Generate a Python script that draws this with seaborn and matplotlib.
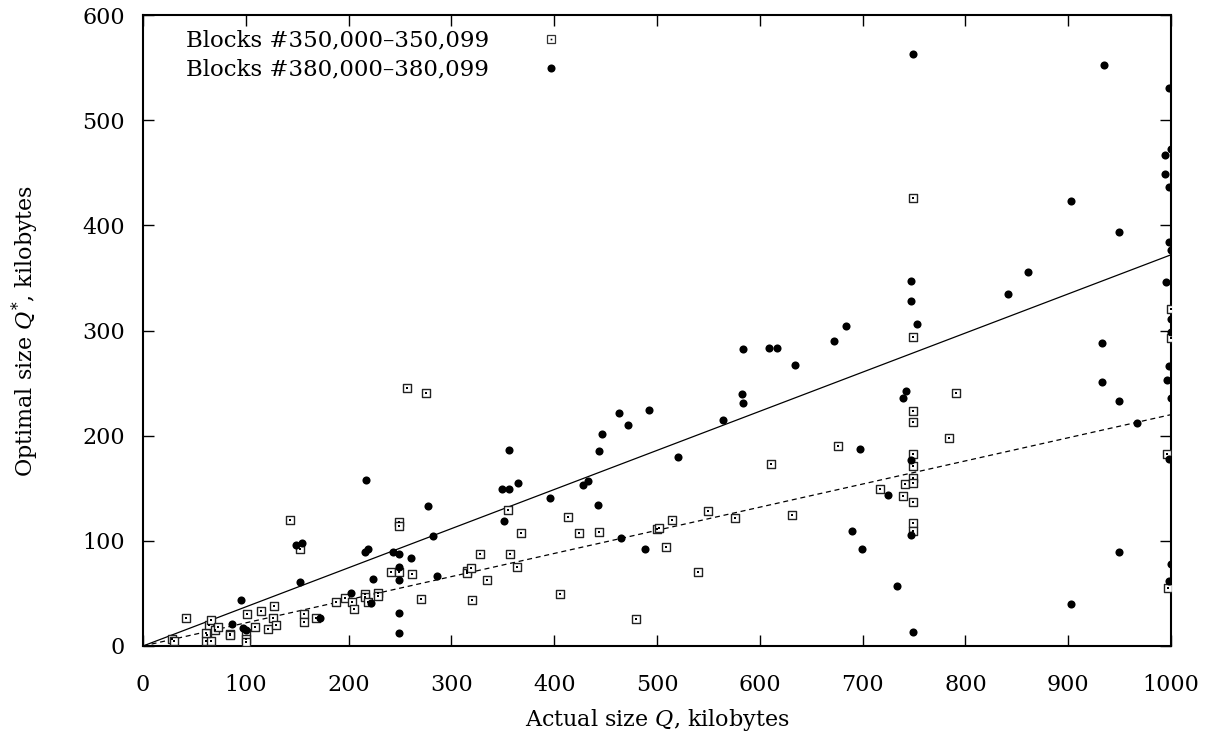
import matplotlib
matplotlib.use('Agg')
import matplotlib.pyplot as plt
from matplotlib.lines import Line2D
import seaborn as sns
import pandas as pd

# Blocks #350,000-350,099 (open squares)
x350 = [28, 30, 42, 62, 61, 66, 61, 64, 66, 70, 73, 85, 85, 100, 100, 100, 101, 109, 115, 122,
        126, 127, 129, 143, 153, 157, 157, 168, 188, 196, 203, 205, 216, 216, 219, 229, 229, 241,
        249, 249, 249, 257, 262, 270, 275,
        315, 315, 319, 320, 328, 335, 355, 357, 364, 368, 406, 413, 424, 444, 480, 500, 502, 509,
        515, 540, 550, 576, 611, 631, 676, 717,
        739, 741, 749, 749, 749, 749, 749, 749, 749, 749, 749, 749, 749,
        784, 791, 996, 997, 1000, 1000]
y350 = [7, 5, 27, 10, 5, 5, 12, 20, 25, 15, 18, 11, 10, 12, 7, 4, 30, 18, 33, 16,
        27, 38, 20, 120, 92, 30, 23, 27, 42, 46, 42, 35, 49, 47, 42, 50, 48, 70,
        118, 114, 70, 245, 68, 45, 241,
        71, 69, 74, 44, 87, 63, 129, 87, 75, 107, 49, 123, 107, 108, 26, 111, 112, 94,
        120, 70, 128, 122, 173, 125, 190, 149,
        143, 154, 426, 294, 223, 213, 183, 171, 160, 155, 137, 117, 109,
        198, 241, 183, 55, 320, 293]

# Blocks #380,000-380,099 (filled circles)
x380 = [87, 95, 97, 100, 149, 153, 155, 172, 202, 216, 217, 219, 222, 224, 243, 249, 249, 249,
        249, 249, 261, 277, 282, 286,
        349, 351, 356, 356, 365, 396, 428, 433, 443, 444, 446, 463, 465, 472, 488, 492, 520,
        564, 583, 584, 584, 609, 617, 634, 672, 684, 690, 697, 699, 725, 733, 739, 742, 747,
        747, 747, 747, 749, 749, 753,
        841, 861, 903, 903, 933, 933, 935, 949, 949, 949, 967,
        994, 994, 995, 996, 998, 1000, 1000, 998, 998, 1000, 1000, 1000, 998, 1000, 998, 1000, 998]
y380 = [21, 44, 17, 15, 96, 61, 98, 27, 50, 89, 158, 92, 41, 64, 89, 87, 75, 63,
        31, 12, 84, 133, 105, 67,
        149, 119, 149, 186, 155, 141, 153, 157, 134, 185, 202, 222, 103, 210, 92, 224, 180,
        215, 240, 231, 282, 283, 283, 267, 290, 304, 109, 187, 92, 144, 57, 236, 242, 347,
        328, 177, 106, 563, 13, 306,
        335, 356, 423, 40, 288, 251, 552, 394, 233, 89, 212,
        467, 449, 346, 253, 531, 531, 473, 436, 384, 377, 311, 299, 266, 236, 178, 78, 62]

# fitted slopes
slope350 = 0.22
slope380 = 0.372
line_x = [0, 1000]

labels = ['Blocks #350,000–350,099', 'Blocks #380,000–380,099']

sns.set_style('ticks')
plt.rcParams['font.family'] = ['DejaVu Serif']
plt.rcParams['mathtext.fontset'] = 'dejavuserif'
plt.rcParams['text.color'] = 'black'
plt.rcParams['axes.labelcolor'] = 'black'

fig, ax = plt.subplots(figsize=(12.06, 7.36), dpi=100)
fig.subplots_adjust(left=0.1186, right=0.971, top=0.9796, bottom=0.1223)

ax.plot(line_x, [v * slope380 for v in line_x], color='black', lw=0.9, zorder=1)
ax.plot(line_x, [v * slope350 for v in line_x], color='black', lw=0.9, dashes=(4, 3), zorder=1)

sns.scatterplot(x=x350, y=y350, marker='s', s=36, facecolor='white', edgecolor='#222222',
                linewidth=1.0, ax=ax, zorder=3)
sns.scatterplot(x=x350, y=y350, marker='s', s=2, color='black', linewidth=0, ax=ax, zorder=4)
sns.scatterplot(x=x380, y=y380, marker='o', s=34, color='black', linewidth=0, ax=ax, zorder=3)

ax.set_xlim(0, 1000)
ax.set_ylim(0, 600)
ax.set_xticks(range(0, 1001, 100))
ax.set_yticks(range(0, 601, 100))
ax.tick_params(direction='in', length=8, width=1, top=True, right=True, labelsize=16,
               colors='black')
ax.tick_params(axis='x', pad=20)
ax.tick_params(axis='y', pad=13)
for sp in ax.spines.values():
    sp.set_linewidth(1.5)
    sp.set_color('black')

ax.set_xlabel('Actual size $Q$, kilobytes', fontsize=16, labelpad=8)
ax.set_ylabel('Optimal size $Q^{*}$, kilobytes', fontsize=16, labelpad=30)

h_sq = (Line2D([], [], ls='', marker='s', ms=5.5, mfc='white', mec='#333333', mew=0.9),
        Line2D([], [], ls='', marker='s', ms=1.2, mfc='black', mew=0))
h_ci = Line2D([], [], ls='', marker='o', ms=5.8, mfc='black', mew=0)
leg = ax.legend([h_sq, h_ci], labels, loc='upper left', bbox_to_anchor=(0.042, 0.977),
                markerfirst=False, frameon=False, fontsize=16.5, handlelength=1.0,
                handletextpad=2.2, labelspacing=0.32, borderpad=0, borderaxespad=0)
for t in leg.get_texts():
    t.set_color('black')

plt.savefig('out.png', dpi=100)
